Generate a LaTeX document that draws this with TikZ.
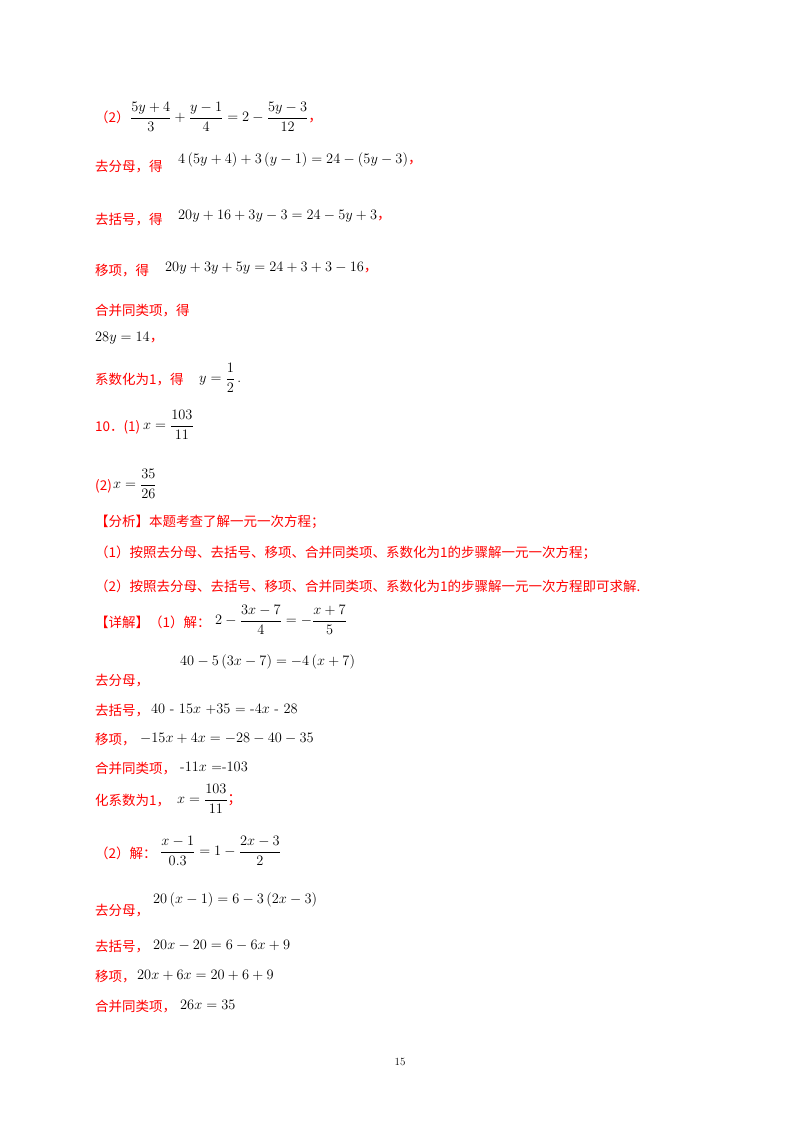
\documentclass[tikz,border=0pt]{standalone}
\usepackage{amsmath}
\usepackage{fontspec}
\newfontfamily\cjk{Noto Sans CJK SC}
\usepackage{xcolor}
\definecolor{rd}{HTML}{FF0000}
\newcommand{\rc}{\textcolor{rd}{\cjk ，}}
\begin{document}
\begin{tikzpicture}[x=1pt,y=-1pt,
  r/.style={anchor=west,inner sep=0pt,text=rd,font=\cjk\fontsize{13.5}{16}\selectfont},
  m/.style={anchor=west,inner sep=0pt,font=\fontsize{14}{17}\selectfont}]
\useasboundingbox (0,0) rectangle (800,1132);
\fill[white] (0,0) rectangle (800,1132);
\node[r] (a1) at (95,117) {（2）};
\node[m] (a2) at (130,117) {$\dfrac{5y+4}{3}+\dfrac{y-1}{4}=2-\dfrac{5y-3}{12}$\rc};
\node[r] (b1) at (95,167) {去分母，得};
\node[m] (b2) at (178,160) {$4\left(5y+4\right)+3\left(y-1\right)=24-\left(5y-3\right)$\rc};
\node[r] (c1) at (95,220) {去括号，得};
\node[m] (c2) at (178,216) {$20y+16+3y-3=24-5y+3$\rc};
\node[r] (d1) at (95,271) {移项，得};
\node[m] (d2) at (165,268) {$20y+3y+5y=24+3+3-16$\rc};
\node[r] (e1) at (95,311) {合并同类项，得};
\node[m] (e2) at (95,338) {$28y=14$\rc};
\node[r] (f1) at (95,380) {系数化为1，得};
\node[m] (f2) at (199,378) {$y=\dfrac{1}{2}$\,.};
\node[r] (g1) at (95,427) {10．(1)};
\node[m] (g2) at (143,425) {$x=\dfrac{103}{11}$};
\node[r] (h1) at (95,486) {(2)};
\node[m] (h2) at (113,484) {$x=\dfrac{35}{26}$};
\node[r] (i1) at (95,522) {【分析】本题考查了解一元一次方程；};
\node[r] (i2) at (95,553) {（1）按照去分母、去括号、移项、合并同类项、系数化为1的步骤解一元一次方程；};
\node[r] (i3) at (95,586) {（2）按照去分母、去括号、移项、合并同类项、系数化为1的步骤解一元一次方程即可求解.};
\node[r] (j1) at (95,622) {【详解】（1）解：};
\node[m] (j2) at (215,620) {$2-\dfrac{3x-7}{4}=-\dfrac{x+7}{5}$};
\node[r] (k1) at (95,681) {去分母，};
\node[m] (k2) at (180,662) {$40-5\left(3x-7\right)=-4\left(x+7\right)$};
\node[r] (l1) at (95,711) {去括号，};
\node[m] (l2) at (151,709) {$40$ - $15x$ +$35$ = -$4x$ - $28$};
\node[r] (m1) at (95,740) {移项，};
\node[m] (m2) at (140,738) {$-15x+4x=-28-40-35$};
\node[r] (n1) at (95,769) {合并同类项，};
\node[m] (n2) at (180,767) {-$11x$ =-$103$};
\node[r] (o1) at (95,801) {化系数为1，};
\node[m] (o2) at (177,799) {$x=\dfrac{103}{11}$\textcolor{rd}{\cjk ；}};
\node[r] (p1) at (95,853) {（2）解：};
\node[m] (p2) at (160,851) {$\dfrac{x-1}{0.3}=1-\dfrac{2x-3}{2}$};
\node[r] (q1) at (95,911) {去分母，};
\node[m] (q2) at (153,900) {$20\left(x-1\right)=6-3\left(2x-3\right)$};
\node[r] (s1) at (95,947) {去括号，};
\node[m] (s2) at (153,945) {$20x-20=6-6x+9$};
\node[r] (t1) at (95,977) {移项，};
\node[m] (t2) at (137,975) {$20x+6x=20+6+9$};
\node[r] (u1) at (95,1007) {合并同类项，};
\node[m] (u2) at (180,1005) {$26x=35$};
\node[inner sep=0pt,font=\fontsize{11}{13}\selectfont] (pg) at (400,1062) {15};
\end{tikzpicture}
\end{document}
